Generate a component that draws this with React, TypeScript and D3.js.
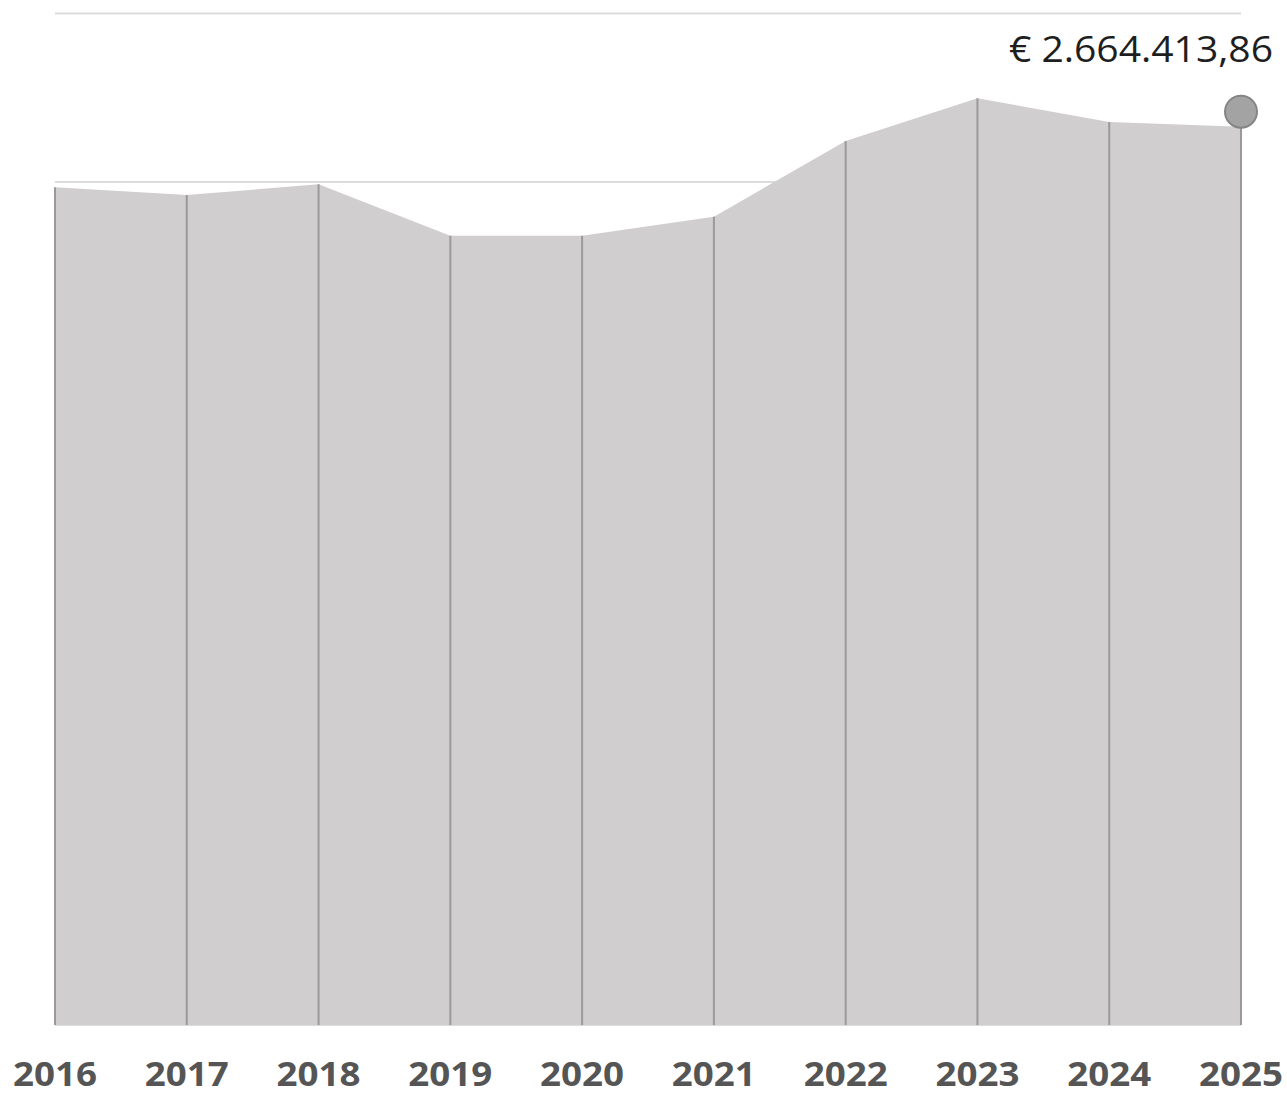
import React from "react";
import * as d3 from "d3";

const years = ["2016", "2017", "2018", "2019", "2020", "2021", "2022", "2023", "2024", "2025"];
const values = [2484500, 2461700, 2493400, 2341000, 2340500, 2397000, 2622000, 2748500, 2678000, 2664413.86];
const yTicks = [0, 500000, 1000000, 1500000, 2000000, 2500000, 3000000];
const lastLabel = "€ 2.664.413,86";

const W = 1287;
const H = 1095;

export default function App() {
  const x = d3.scalePoint<string>().domain(years).range([55, 1241]);
  const y = d3.scaleLinear().domain([0, 3000000]).range([1025, 13.5]);
  const data = years.map((yr, i) => ({ yr, v: values[i] }));
  const area = d3
    .area<{ yr: string; v: number }>()
    .x((d) => x(d.yr) as number)
    .y0(y(0))
    .y1((d) => y(d.v))
    .curve(d3.curveLinear);
  const last = data[data.length - 1];
  const lx = x(last.yr) as number;
  const ly = y(last.v);

  return (
    <div style={{ position: "absolute", left: 0, top: 0 }}>
      <svg width={W} height={H} style={{ display: "block", background: "#fff" }}>
        {yTicks.map((t) => (
          <line key={t} x1={55} x2={1241} y1={y(t)} y2={y(t)} stroke="#dcdcdc" strokeWidth={2} />
        ))}
        <path d={area(data) || ""} fill="#d0cecf" />
        {data.map((d) => (
          <line
            key={d.yr}
            x1={x(d.yr)}
            x2={x(d.yr)}
            y1={y(d.v)}
            y2={y(0)}
            stroke="#9a9a9a"
            strokeWidth={2}
          />
        ))}
        <circle cx={lx} cy={ly - 15} r={16} fill="#a3a3a3" stroke="#858585" strokeWidth={2} />
        <text
          x={1009}
          y={62}
          textAnchor="start"
          fontFamily="'Open Sans', sans-serif"
          fontSize={36}
          textLength={264}
          lengthAdjust="spacingAndGlyphs"
          fill="#1e1e1e"
        >
          {lastLabel}
        </text>
        {years.map((yr) => (
          <text
            key={yr}
            x={x(yr)}
            y={1086}
            textAnchor="middle"
            fontFamily="'Open Sans', sans-serif"
            fontWeight={700}
            fontSize={34}
            textLength={84}
            lengthAdjust="spacingAndGlyphs"
            fill="#555555"
          >
            {yr}
          </text>
        ))}
      </svg>
    </div>
  );
}
